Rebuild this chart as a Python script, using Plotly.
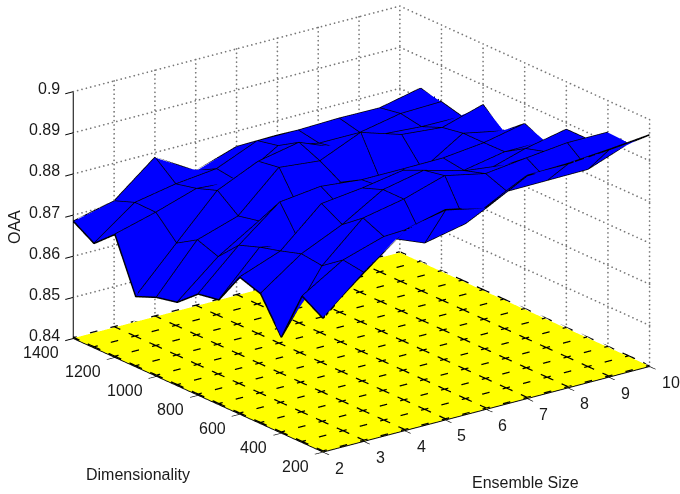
import numpy as np
import plotly.graph_objects as go

ENSEMBLE_SIZE = [2, 3, 4, 5, 6, 7, 8, 9, 10]
DIMENSIONALITY = [1400, 1300, 1200, 1100, 1000, 900, 800, 700, 600, 500, 400, 300, 200]
Y_TICKS = [200, 400, 600, 800, 1000, 1200, 1400]
Z_TICKS = [0.84, 0.85, 0.86, 0.87, 0.88, 0.89, 0.90]
Z_LABELS = ["0.84", "0.85", "0.86", "0.87", "0.88", "0.89", "0.9"]
# one row per ensemble size, one column per dimensionality
OAA_2 = [.8685,.8654,.8699,.8571,.8592,.8603,.8646,.8655,.8733,.8716,.8633,.8756,.8725]
OAA_3 = [.8708,.8727,.8726,.8674,.8705,.8687,.8738,.8756,.8770,.8786,.8780,.8817,.8810]
OAA_4 = [.8788,.8746,.8758,.8776,.8737,.8748,.8817,.8737,.8859,.8831,.8870,.8848,.8887]
OAA_5 = [.8729,.8757,.8750,.8821,.8829,.8746,.8829,.8800,.8871,.8890,.8890,.8808,.8911]
OAA_6 = [.8762,.8799,.8810,.8841,.8819,.8790,.8819,.8825,.8888,.8911,.8921,.8829,.8890]
OAA_7 = [.8764,.8799,.8790,.8801,.8862,.8762,.8819,.8820,.8861,.8884,.8900,.8881,.8942]
OAA_8 = [.8759,.8802,.8790,.8808,.8831,.8769,.8820,.8813,.8833,.8872,.8912,.8882,.8945]
OAA_9 = [.8757,.8801,.8810,.8801,.8822,.8831,.8831,.8832,.8863,.8878,.8923,.8883,.8953]
OAA_10 = [.8755,.8823,.8813,.8800,.8852,.8811,.8852,.8832,.8884,.8884,.8923,.8920,.8963]
OAA = [OAA_2, OAA_3, OAA_4, OAA_5, OAA_6, OAA_7, OAA_8, OAA_9, OAA_10]

Z_FLOOR = 0.84
Z_TOP = 0.90
XMIN, XMAX = 2, 10
YMIN, YMAX = 200, 1400
TEXT_COLOR = "#1a1a1a"

z_grid = np.array(OAA).T[::-1]
y_grid = DIMENSIONALITY[::-1]

flat = dict(ambient=1, diffuse=0, specular=0, roughness=1, fresnel=0)
fig = go.Figure()

def seg_trace(xs, ys, zs, color, width, dash="solid"):
    return go.Scatter3d(x=xs, y=ys, z=zs, mode="lines", hoverinfo="skip", showlegend=False,
                        line=dict(color=color, width=width, dash=dash))

# dotted back-wall grid, one small marker per dot
dx_step = (XMAX - XMIN) / 75
dy_step = (YMAX - YMIN) / 60
dz_step = (Z_TOP - Z_FLOOR) / 56
gx, gy, gz = [], [], []
for z in Z_TICKS[1:]:
    xs = np.arange(XMIN, XMAX + 1e-9, dx_step)
    gx += list(xs); gy += [YMAX] * len(xs); gz += [z] * len(xs)
    ys = np.arange(YMIN, YMAX + 1e-9, dy_step)
    gx += [XMAX] * len(ys); gy += list(ys); gz += [z] * len(ys)
zs = np.arange(Z_FLOOR, Z_TOP + 1e-9, dz_step)
for x in ENSEMBLE_SIZE[1:]:
    gx += [x] * len(zs); gy += [YMAX] * len(zs); gz += list(zs)
for y in Y_TICKS[:-1]:
    gx += [XMAX] * len(zs); gy += [y] * len(zs); gz += list(zs)
fig.add_trace(go.Scatter3d(x=gx, y=gy, z=gz, mode="markers", hoverinfo="skip", showlegend=False,
                           marker=dict(size=1, color="#777777", line=dict(width=0))))

# yellow floor
floor_z = Z_FLOOR + 0.0001
fig.add_trace(go.Surface(x=ENSEMBLE_SIZE, y=y_grid, z=np.full_like(z_grid, floor_z),
                         surfacecolor=np.zeros_like(z_grid), cmin=0, cmax=1,
                         colorscale=[[0, "#ffff00"], [1, "#ffff00"]], showscale=False,
                         lighting=flat, hoverinfo="skip"))
# dashes on the floor: along x at half-unit spacing, short crossings along y
dz = Z_FLOOR + 0.0003
tx, ty, tz = [], [], []
half_steps = np.arange(XMIN, XMAX + 1e-9, 0.5)
for y in y_grid:
    for x in half_steps:
        tx += [max(x - 0.09, XMIN), min(x + 0.09, XMAX), None]
        ty += [y, y, None]; tz += [dz, dz, None]
for x in ENSEMBLE_SIZE:
    for y in y_grid:
        tx += [x, x, None]; ty += [max(y - 30, YMIN), min(y + 30, YMAX), None]; tz += [dz, dz, None]
fig.add_trace(seg_trace(tx, ty, tz, "black", 2.5))

# blue surface
fig.add_trace(go.Surface(x=ENSEMBLE_SIZE, y=y_grid, z=z_grid,
                         surfacecolor=np.zeros_like(z_grid), cmin=0, cmax=1,
                         colorscale=[[0, "#0000ff"], [1, "#0000ff"]], showscale=False,
                         lighting=flat, hoverinfo="skip"))
# surface mesh
mx, my, mz = [], [], []
for r, y in enumerate(y_grid):
    mx += list(ENSEMBLE_SIZE) + [None]; my += [y] * 9 + [None]; mz += list(z_grid[r]) + [None]
for c, x in enumerate(ENSEMBLE_SIZE):
    mx += [x] * 13 + [None]; my += list(y_grid) + [None]; mz += list(z_grid[:, c]) + [None]
fig.add_trace(seg_trace(mx, my, mz, "black", 3))

axis_style = dict(showbackground=False, showgrid=False, zeroline=False, showline=True,
                  linecolor="black", linewidth=2, ticks="outside", ticklen=10, tickcolor="black",
                  tickwidth=2, showspikes=False, title=dict(text=""), showticklabels=False)

# camera, from the picture's axis directions
direction = np.array([-.5675, -.7475, .3453])
right = np.array([.7965, -.6047, 0.0])
up = np.array([.2088, .2750, .9385])
D = 2.0
SCALE = 248.0
center = -21.5 / SCALE * right - 18 / SCALE * up
eye = center + D * direction

def v(a):
    return dict(x=float(a[0]), y=float(a[1]), z=float(a[2]))

W, H = 680, 494
def px(X):
    return X / W
def py(Y):
    return 1 - Y / H

tick_font = dict(family="Liberation Sans", size=16, color=TEXT_COLOR)
scene_notes = []
for x in ENSEMBLE_SIZE:
    scene_notes.append(dict(x=x, y=YMIN, z=Z_FLOOR, text=str(x), showarrow=False, font=tick_font,
                            xanchor="left", yanchor="middle", xshift=10, yshift=-16))
for y in Y_TICKS:
    scene_notes.append(dict(x=XMIN, y=y, z=Z_FLOOR, text=str(y), showarrow=False, font=tick_font,
                            xanchor="right", yanchor="middle", xshift=-12, yshift=-14))
for z, label in zip(Z_TICKS, Z_LABELS):
    scene_notes.append(dict(x=XMIN, y=YMAX, z=z, text=label, showarrow=False, font=tick_font,
                            xanchor="right", yanchor="middle", xshift=-11, yshift=3))

fig.update_layout(
    width=W, height=H, margin=dict(l=0, r=0, t=0, b=0),
    paper_bgcolor="white", showlegend=False,
    font=dict(family="Liberation Sans", size=16, color=TEXT_COLOR),
    scene=dict(
        domain=dict(x=[0, 1], y=[0, 1]),
        aspectmode="manual", aspectratio=dict(x=1.66, y=1.672, z=1.065),
        xaxis=dict(range=[XMIN, XMAX], tickvals=ENSEMBLE_SIZE, **axis_style),
        yaxis=dict(range=[YMIN, YMAX], tickvals=Y_TICKS, **axis_style),
        zaxis=dict(range=[Z_FLOOR, Z_TOP], tickvals=Z_TICKS, **axis_style),
        camera=dict(projection=dict(type="orthographic"), eye=v(eye), center=v(center), up=dict(x=0, y=0, z=1)),
        annotations=scene_notes,
    ),
    annotations=[
        dict(text="Ensemble Size", x=px(525), y=py(482), xref="paper", yref="paper", showarrow=False, xanchor="center", yanchor="middle"),
        dict(text="Dimensionality", x=px(138), y=py(474), xref="paper", yref="paper", showarrow=False, xanchor="center", yanchor="middle"),
        dict(text="OAA", x=px(14), y=py(227), xref="paper", yref="paper", showarrow=False, textangle=-90, xanchor="center", yanchor="middle"),
    ],
)
fig.write_html("out.html", config={"displayModeBar": False},
               post_script="document.body.style.margin='0';document.body.style.overflow='hidden';")
